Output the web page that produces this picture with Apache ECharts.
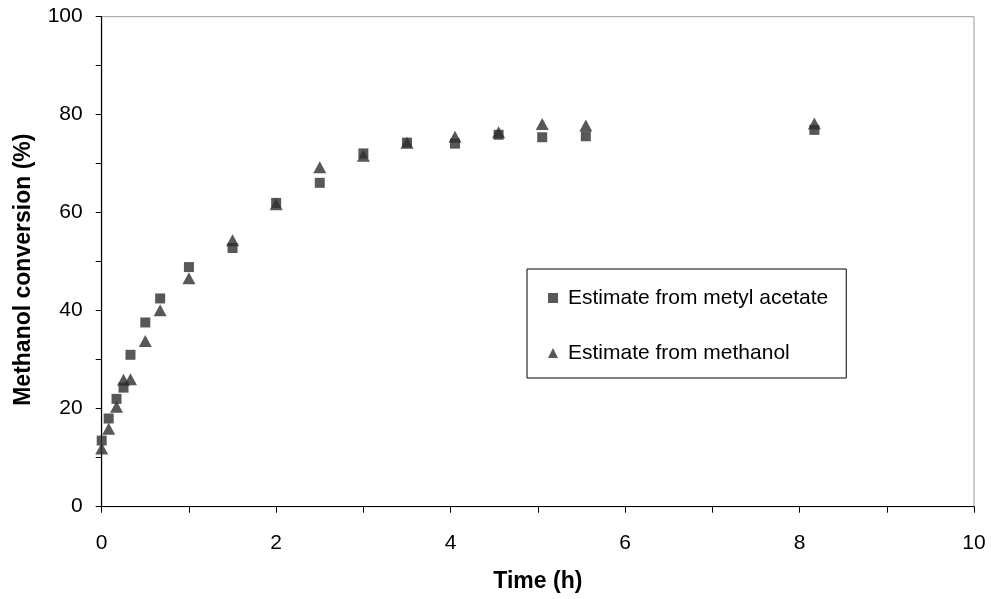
<!DOCTYPE html>
<html>
<head>
<meta charset="utf-8">
<script src="https://cdn.jsdelivr.net/npm/echarts@6/dist/echarts.min.js"></script>
<style>
html,body{margin:0;padding:0;background:#fff;}
#chart{width:991px;height:599px;}
</style>
</head>
<body>
<div id="chart"></div>
<script>
var timeH = [0, 0.08, 0.17, 0.25, 0.33, 0.5, 0.67, 1, 1.5, 2, 2.5, 3, 3.5, 4.05, 4.55, 5.05, 5.55, 8.17];
var fromMetylAcetate = [13.5, 18.0, 22.0, 24.3, 31.0, 37.6, 42.5, 48.9, 52.8, 62.0, 66.1, 72.1, 74.3, 74.1, 75.9, 75.4, 75.6, 76.9];
var fromMethanol = [11.9, 15.9, 20.4, 25.9, 26.0, 33.8, 40.1, 46.6, 54.4, 61.7, 69.3, 71.6, 74.3, 75.5, 76.4, 78.1, 77.8, 78.2];
var seriesNames = ['Estimate from metyl acetate', 'Estimate from methanol'];
var xTitle = 'Time (h)';
var yTitle = 'Methanol conversion (%)';

function pairs(xs, ys) { return xs.map(function (x, i) { return [x, ys[i]]; }); }

var FONT = '"Liberation Sans", Arial, sans-serif';
var chart = echarts.init(document.getElementById('chart'));
chart.setOption({
  animation: false,
  backgroundColor: '#fff',
  textStyle: { fontFamily: FONT },
  grid: {
    left: 101.7, right: 17, top: 16.7, bottom: 92.3,
    show: true, borderColor: '#9a9a9a', borderWidth: 1, backgroundColor: 'transparent'
  },
  xAxis: {
    type: 'value', min: 0, max: 10, interval: 2,
    name: xTitle, nameLocation: 'middle', nameGap: 63,
    nameTextStyle: { fontFamily: FONT, fontSize: 23, fontWeight: 'bold', color: '#000' },
    axisLine: { show: true, lineStyle: { color: '#000', width: 1.2 } },
    axisTick: { show: true, inside: false, length: 6, lineStyle: { color: '#000' } },
    minorTick: { show: true, splitNumber: 2, length: 6, lineStyle: { color: '#000' } },
    axisLabel: { fontFamily: FONT, fontSize: 21, color: '#000', margin: 26 },
    splitLine: { show: false }, minorSplitLine: { show: false }
  },
  yAxis: {
    type: 'value', min: 0, max: 100, interval: 20,
    name: yTitle, nameLocation: 'middle', nameGap: 67, nameRotate: 90,
    nameTextStyle: { fontFamily: FONT, fontSize: 23, fontWeight: 'bold', color: '#000', padding: [0, 16, 0, 0] },
    axisLine: { show: true, lineStyle: { color: '#000', width: 1.2 } },
    axisTick: { show: true, inside: false, length: 6, lineStyle: { color: '#000' } },
    minorTick: { show: true, splitNumber: 2, length: 6, lineStyle: { color: '#000' } },
    axisLabel: { fontFamily: FONT, fontSize: 21, color: '#000', margin: 19 },
    splitLine: { show: false }, minorSplitLine: { show: false }
  },
  legend: {
    orient: 'vertical', left: 527, top: 269,
    padding: [18, 18, 14, 21], itemGap: 33,
    itemWidth: 10, itemHeight: 10,
    borderColor: '#000', borderWidth: 1, backgroundColor: '#fff',
    textStyle: { fontFamily: FONT, fontSize: 21, color: '#000', lineHeight: 22, padding: [0, 0, 0, 5] },
    data: [
      { name: seriesNames[0], icon: 'rect' },
      { name: seriesNames[1], icon: 'triangle' }
    ]
  },
  series: [
    {
      name: seriesNames[1], type: 'scatter', symbol: 'triangle', symbolSize: [13, 12],
      itemStyle: { color: '#2e2e2e' }, data: pairs(timeH, fromMethanol), z: 2
    },
    {
      name: seriesNames[0], type: 'scatter', symbol: 'rect', symbolSize: 10,
      itemStyle: { color: '#2e2e2e' }, data: pairs(timeH, fromMetylAcetate), z: 3
    }
  ]
});
</script>
</body>
</html>
